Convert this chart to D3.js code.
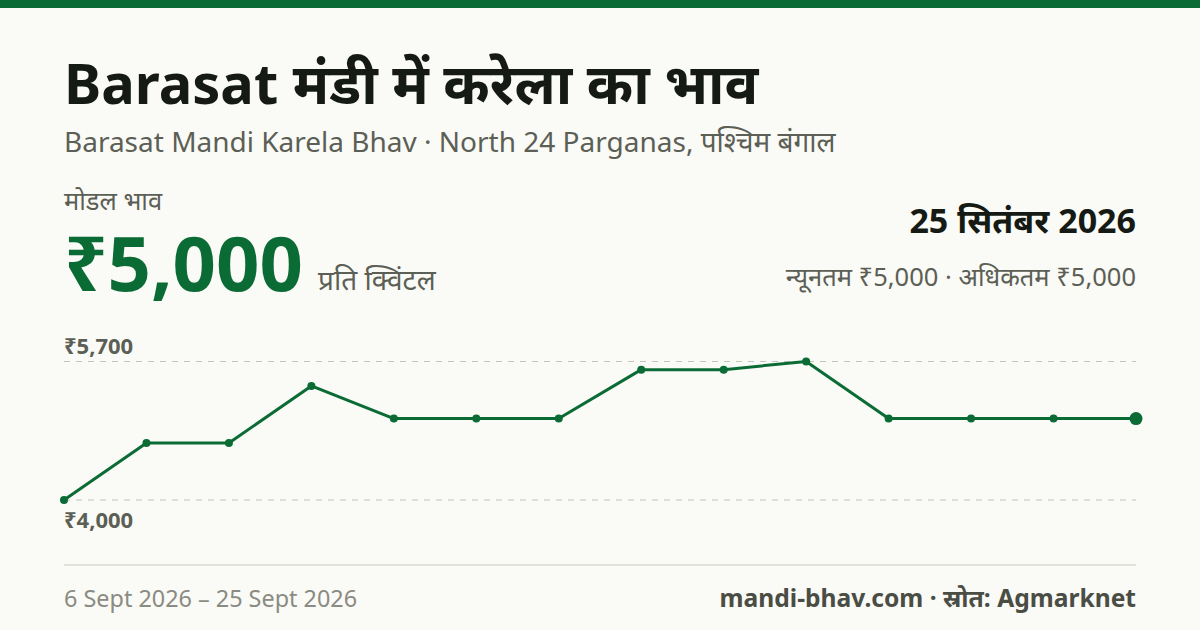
<!DOCTYPE html>
<html>
<head>
<meta charset="utf-8">
<script src="https://cdn.jsdelivr.net/npm/d3@7"></script>
<style>
  body { margin: 0; background: #fafaf6; }
  svg { display: block; font-family: "Noto Sans", "Open Sans", sans-serif; }
</style>
</head>
<body>
<div id="chart"></div>
<script>
// chart data
const dates = ["6 Sept", "7 Sept", "8 Sept", "10 Sept", "11 Sept", "13 Sept", "14 Sept",
  "16 Sept", "17 Sept", "19 Sept", "20 Sept", "22 Sept", "24 Sept", "25 Sept"];
const modalPrices = [4000, 4700, 4700, 5400, 5000, 5000, 5000, 5600, 5600, 5700, 5000, 5000, 5000, 5000];
const yTicks = [4000, 5700];

const title = "Barasat मंडी में करेला का भाव";
const subtitle = "Barasat Mandi Karela Bhav · North 24 Parganas, पश्चिम बंगाल";
const modalLabel = "मोडल भाव";
const modalValue = "₹5,000";
const unitLabel = "प्रति क्विंटल";
const dateLabel = "25 सितंबर 2026";
const rangeLabel = "न्यूनतम ₹5,000 · अधिकतम ₹5,000";
const periodLabel = "6 Sept 2026 – 25 Sept 2026";
const sourceLabel = "mandi-bhav.com · स्रोत: Agmarknet";

const W = 1200, H = 630;
const left = 64, right = 1136;
const colors = {
  green: "#0b6b35",
  ink: "#151a14",
  muted: "#5c5f55",
  light: "#8a8b82",
  grid: "#c4c4bc",
  rule: "#e2e2da"
};

const svg = d3.select("#chart").append("svg")
  .attr("width", W)
  .attr("height", H);

svg.append("rect").attr("width", W).attr("height", H).attr("fill", "#fafaf6");
svg.append("rect").attr("width", W).attr("height", 8).attr("fill", colors.green);

// header
svg.append("text")
  .attr("x", left).attr("y", 104)
  .attr("font-size", 56).attr("font-weight", 700)
  .attr("fill", colors.ink)
  .text(title);

svg.append("text")
  .attr("x", left).attr("y", 152)
  .attr("font-size", 28)
  .attr("fill", colors.muted)
  .text(subtitle);

svg.append("text")
  .attr("x", left).attr("y", 210)
  .attr("font-size", 25.5)
  .attr("fill", colors.muted)
  .text(modalLabel);

const big = svg.append("text")
  .attr("x", left).attr("y", 291)
  .attr("font-size", 76).attr("font-weight", 700)
  .attr("fill", colors.green)
  .text(modalValue);

const bigW = big.node().getComputedTextLength();
svg.append("text")
  .attr("x", left + bigW + 15).attr("y", 290)
  .attr("font-size", 28)
  .attr("fill", colors.muted)
  .text(unitLabel);

svg.append("text")
  .attr("x", right).attr("y", 233)
  .attr("text-anchor", "end")
  .attr("font-size", 34).attr("font-weight", 700)
  .attr("fill", colors.ink)
  .text(dateLabel);

svg.append("text")
  .attr("x", right).attr("y", 286)
  .attr("text-anchor", "end")
  .attr("font-size", 25.5)
  .attr("fill", colors.muted)
  .text(rangeLabel);

// scales
const x = d3.scalePoint().domain(dates).range([left, right]);
const y = d3.scaleLinear().domain([4000, 5700]).range([500, 361.5]);

// gridlines + labels
const grid = svg.append("g");
grid.selectAll("line")
  .data(yTicks)
  .join("line")
  .attr("x1", left).attr("x2", right)
  .attr("y1", d => y(d)).attr("y2", d => y(d))
  .attr("stroke", colors.grid)
  .attr("stroke-width", 1.2)
  .attr("stroke-dasharray", "6,6");

grid.selectAll("text")
  .data(yTicks)
  .join("text")
  .attr("x", left)
  .attr("y", d => d === 5700 ? y(d) - 8 : y(d) + 28)
  .attr("font-size", 22).attr("font-weight", 700)
  .attr("fill", colors.muted)
  .text(d => "₹" + d3.format(",")(d));

// price line
const line = d3.line()
  .x((d, i) => x(dates[i]))
  .y(d => y(d));

svg.append("path")
  .datum(modalPrices)
  .attr("fill", "none")
  .attr("stroke", colors.green)
  .attr("stroke-width", 3)
  .attr("stroke-linejoin", "round")
  .attr("d", line);

svg.append("g").selectAll("circle")
  .data(modalPrices)
  .join("circle")
  .attr("cx", (d, i) => x(dates[i]))
  .attr("cy", d => y(d))
  .attr("r", (d, i) => i === modalPrices.length - 1 ? 6.5 : 4)
  .attr("fill", colors.green);

// footer
svg.append("line")
  .attr("x1", left).attr("x2", right)
  .attr("y1", 565).attr("y2", 565)
  .attr("stroke", colors.rule)
  .attr("stroke-width", 2);

svg.append("text")
  .attr("x", left).attr("y", 607)
  .attr("font-size", 23.4)
  .attr("fill", colors.light)
  .text(periodLabel);

svg.append("text")
  .attr("x", right).attr("y", 607)
  .attr("text-anchor", "end")
  .attr("font-size", 24.6).attr("font-weight", 700)
  .attr("fill", "#4a4d44")
  .text(sourceLabel);
</script>
</body>
</html>
